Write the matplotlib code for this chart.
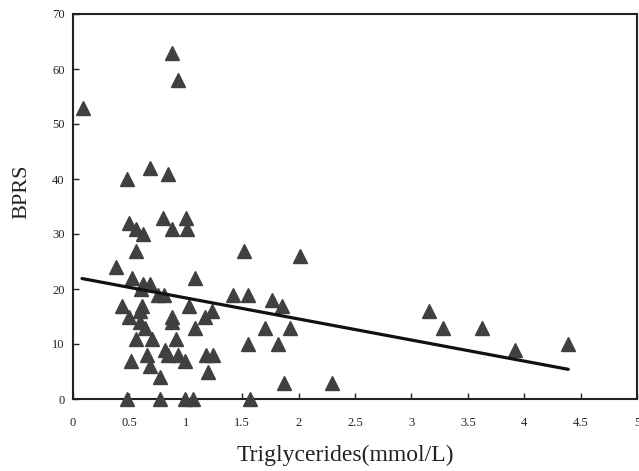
import matplotlib
matplotlib.use("Agg")
import matplotlib.pyplot as plt

plt.rcParams['font.family'] = ['Liberation Serif', 'DejaVu Serif']

# Triglycerides (mmol/L)
tg = [0.09, 0.88, 0.93, 0.48, 0.68, 0.84, 0.50, 0.56, 0.62, 0.80, 0.88, 1.00, 1.01,
      0.56, 0.38, 0.52, 0.62, 0.68, 0.60, 0.75, 0.81, 1.08,
      0.43, 0.61, 0.59, 0.50, 0.88, 0.88, 1.03, 0.59, 0.64, 1.08, 1.23, 1.17,
      0.91, 0.56, 0.70, 0.51, 0.66, 0.68, 0.82, 0.84, 0.93, 0.99, 1.18, 1.24, 1.20, 0.77,
      0.48, 0.77, 0.99, 1.06, 1.57,
      1.42, 1.55, 1.52, 2.01, 1.76, 1.85, 1.70, 1.92, 1.55, 1.82, 1.87, 2.30,
      3.16, 3.28, 3.63, 3.92, 4.39]
# BPRS scores
bprs = [53, 63, 58, 40, 42, 41, 32, 31, 30, 33, 31, 33, 31,
        27, 24, 22, 21, 21, 20, 19, 19, 22,
        17, 17, 16, 15, 15, 14, 17, 14, 13, 13, 16, 15,
        11, 11, 11, 7, 8, 6, 9, 8, 8, 7, 8, 8, 5, 4,
        0, 0, 0, 0, 0,
        19, 19, 27, 26, 18, 17, 13, 13, 10, 10, 3, 3,
        16, 13, 13, 9, 10]

# regression line end points
fit_x = [0.08, 4.39]
fit_y = [21.9, 5.4]

x_ticks = [0, 0.5, 1, 1.5, 2, 2.5, 3, 3.5, 4, 4.5, 5]
x_tick_labels = ["0", "0.5", "1", "1.5", "2", "2.5", "3", "3.5", "4", "4.5", "5"]
y_ticks = [0, 10, 20, 30, 40, 50, 60, 70]
y_tick_labels = ["0", "10", "20", "30", "40", "50", "60", "70"]

fig = plt.figure(figsize=(6.39, 4.71), dpi=100)
ax = fig.add_axes([73/639, 72/471, 564/639, 385/471])

ax.plot(tg, bprs, linestyle='none', marker='^', markersize=10,
        color='#404040', markeredgecolor='#404040', zorder=3, clip_on=False)
ax.plot(fit_x, fit_y, color='#111111', linewidth=2.3, solid_capstyle='round', zorder=4)

ax.set_xlim(0, 5)
ax.set_ylim(0, 70)
ax.set_xticks(x_ticks)
ax.set_xticklabels(x_tick_labels)
ax.set_yticks(y_ticks)
ax.set_yticklabels(y_tick_labels)
ax.tick_params(axis='x', direction='in', length=4, width=1, pad=13, labelsize=9, colors='#222222')
ax.tick_params(axis='y', direction='in', length=4, width=1, pad=6, labelsize=9, colors='#222222')

for s in ax.spines.values():
    s.set_linewidth(1.5)
    s.set_color('#222222')

ax.set_xlabel("Triglycerides(mmol/L)", fontsize=17, color='#222222')
ax.set_ylabel("BPRS", fontsize=16, color='#222222')
ax.xaxis.set_label_coords(0.482, -0.119)
ax.yaxis.set_label_coords(-0.0745, 0.539)

fig.savefig("out.png", dpi=100)
